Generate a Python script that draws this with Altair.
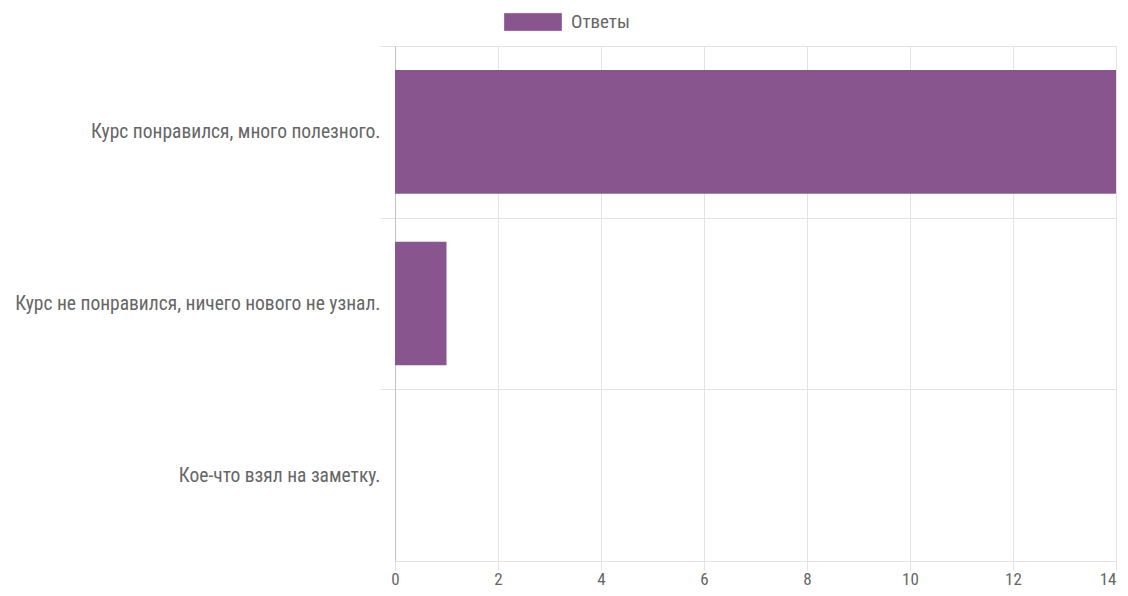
import altair as alt
import pandas as pd

categories = [
    "Курс понравился, много полезного.",
    "Курс не понравился, ничего нового не узнал.",
    "Кое-что взял на заметку.",
]
values = [14, 1, 0]
series = ["Ответы", "Ответы", "Ответы"]
x_ticks = [0, 2, 4, 6, 8, 10, 12, 14]

df = pd.DataFrame({"category": categories, "value": values, "series": series})

W, H = 721, 515
n = len(categories)
step = H / n
band = step * (1 - 0.28)
center_off = 0.14 * step + band / 2

FONT = "Liberation Sans Narrow, Roboto Condensed, Arial Narrow, Roboto"
GRAY = "#666666"
GRID = "#e3e3e3"
PURPLE = "#88558f"

chart = alt.Chart(df).mark_bar().encode(
    x=alt.X(
        "value:Q",
        scale=alt.Scale(domain=[0, 14], nice=False, zero=True),
        axis=alt.Axis(
            title=None, values=x_ticks, grid=True, gridColor=GRID,
            domainColor=GRID, tickColor=GRID, tickSize=9,
            labelColor=GRAY, labelFont=FONT, labelFontSize=17, labelPadding=1,
            labelFlush=False,
            labelAlign=alt.condition("datum.value == 14", alt.value("right"), alt.value("center")),
        ),
    ),
    y=alt.Y(
        "category:N", sort=categories,
        scale=alt.Scale(paddingInner=0.28, paddingOuter=0.14),
        axis=alt.Axis(
            title=None, grid=True, gridColor=GRID, domainColor="#c2c2c2",
            tickColor=GRID, tickSize=15, bandPosition=0.5,
            tickOffset=-center_off, labelOffset=center_off,
            labelColor=GRAY, labelFont=FONT, labelFontSize=19.5, labelPadding=0,
            labelLimit=0,
        ),
    ),
    color=alt.Color(
        "series:N",
        scale=alt.Scale(domain=["Ответы"], range=[PURPLE]),
        legend=alt.Legend(
            title=None, orient="none", legendX=109, legendY=-53,
            symbolType="M-1,-0.3h2v0.6h-2z", symbolSize=3249,
            symbolStrokeColor="#9a6ea0", symbolStrokeWidth=1, symbolOpacity=1,
            labelColor=GRAY, labelFont=FONT, labelFontSize=19, labelOffset=9,
            direction="horizontal",
        ),
    ),
).properties(
    width=W, height=H,
    autosize=alt.AutoSizeParams(type="none"),
    padding={"left": 387, "top": 38, "right": 4, "bottom": 27},
).configure_view(stroke=None)

chart.save("out.html", embed_options={"renderer": "svg", "actions": False})
